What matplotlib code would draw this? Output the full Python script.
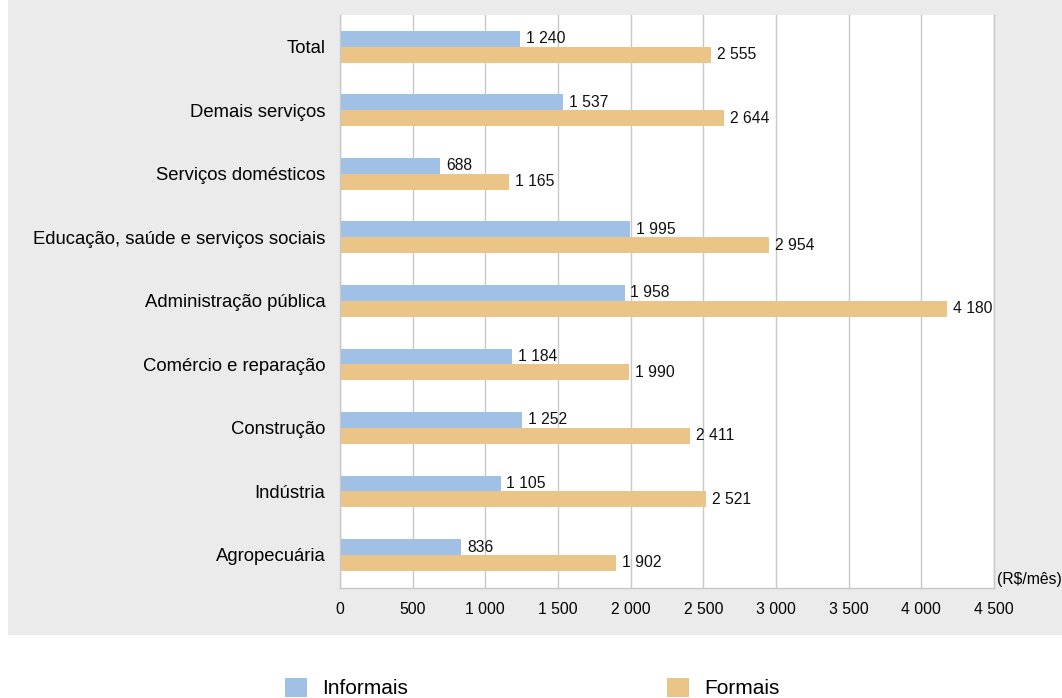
import matplotlib.pyplot as plt
import matplotlib.ticker as ticker
from matplotlib.patches import Rectangle, Patch
import numpy as np

plt.rcParams['font.family'] = ['Liberation Sans', 'DejaVu Sans']

# dados (R$/mês)
setores = [
    "Total",
    "Demais serviços",
    "Serviços domésticos",
    "Educação, saúde e serviços sociais",
    "Administração pública",
    "Comércio e reparação",
    "Construção",
    "Indústria",
    "Agropecuária",
]
informais = [1240, 1537, 688, 1995, 1958, 1184, 1252, 1105, 836]
formais = [2555, 2644, 1165, 2954, 4180, 1990, 2411, 2521, 1902]
x_ticks = [0, 500, 1000, 1500, 2000, 2500, 3000, 3500, 4000, 4500]

COR_INF = '#a0c0e6'
COR_FOR = '#ebc488'
COR_FUNDO = '#ebebeb'
COR_GRADE = '#c8c8c8'


def fmt(v):
    return f"{v:,.0f}".replace(",", " ")


fig = plt.figure(figsize=(10.62, 6.98), dpi=100)

# fundo cinza do bloco do gráfico
fig.patches.append(Rectangle((8 / 1062, 1 - 635 / 698), 1 - 8 / 1062, 635 / 698,
                             transform=fig.transFigure, facecolor=COR_FUNDO,
                             edgecolor='none', zorder=-5))

ax = fig.add_axes([340 / 1062, 1 - 588 / 698, (994 - 340) / 1062, (588 - 15) / 698])
ax.set_facecolor('white')

n = len(setores)
pos = np.arange(n)[::-1]
h = 0.25

b1 = ax.barh(pos + h / 2, informais, height=h, color=COR_INF, zorder=2)
b2 = ax.barh(pos - h / 2, formais, height=h, color=COR_FOR, zorder=2)

for barras, vals in ((b1, informais), (b2, formais)):
    for b, v in zip(barras, vals):
        ax.text(b.get_width() + 40, b.get_y() + b.get_height() / 2, fmt(v),
                ha='left', va='center', fontsize=11.3, color='#111111', zorder=3)

ax.set_xlim(0, 4500)
ax.set_ylim(-0.52, n - 0.5)
ax.set_yticks(pos)
ax.set_yticklabels(setores, fontsize=13.3)
ax.xaxis.set_major_locator(ticker.FixedLocator(x_ticks))
ax.set_xticklabels([fmt(t) for t in x_ticks], fontsize=11.3)
ax.tick_params(axis='both', length=0)
ax.tick_params(axis='y', pad=10.5)
ax.tick_params(axis='x', pad=10)

ax.grid(axis='x', color=COR_GRADE, linewidth=1, zorder=1)
ax.spines['top'].set_visible(False)
for s in ['left', 'bottom', 'right']:
    ax.spines[s].set_color(COR_GRADE)
    ax.spines[s].set_linewidth(1)

ax.text(1.004, 0.015, "(R$/mês)", transform=ax.transAxes, ha='left', va='center',
        fontsize=11.3, clip_on=False)

handles = [Patch(facecolor=COR_INF, edgecolor='none', label='Informais'),
           Patch(facecolor=COR_FOR, edgecolor='none', label='Formais')]
fig.legend(handles=handles, loc='upper left', bbox_to_anchor=(285 / 1062, 1 - 678 / 698),
           ncol=2, frameon=False, fontsize=15, handlelength=1.05, handleheight=1.0,
           handletextpad=0.75, columnspacing=12.4, borderpad=0, borderaxespad=0)

fig.savefig('out.png', dpi=100, facecolor='white')
